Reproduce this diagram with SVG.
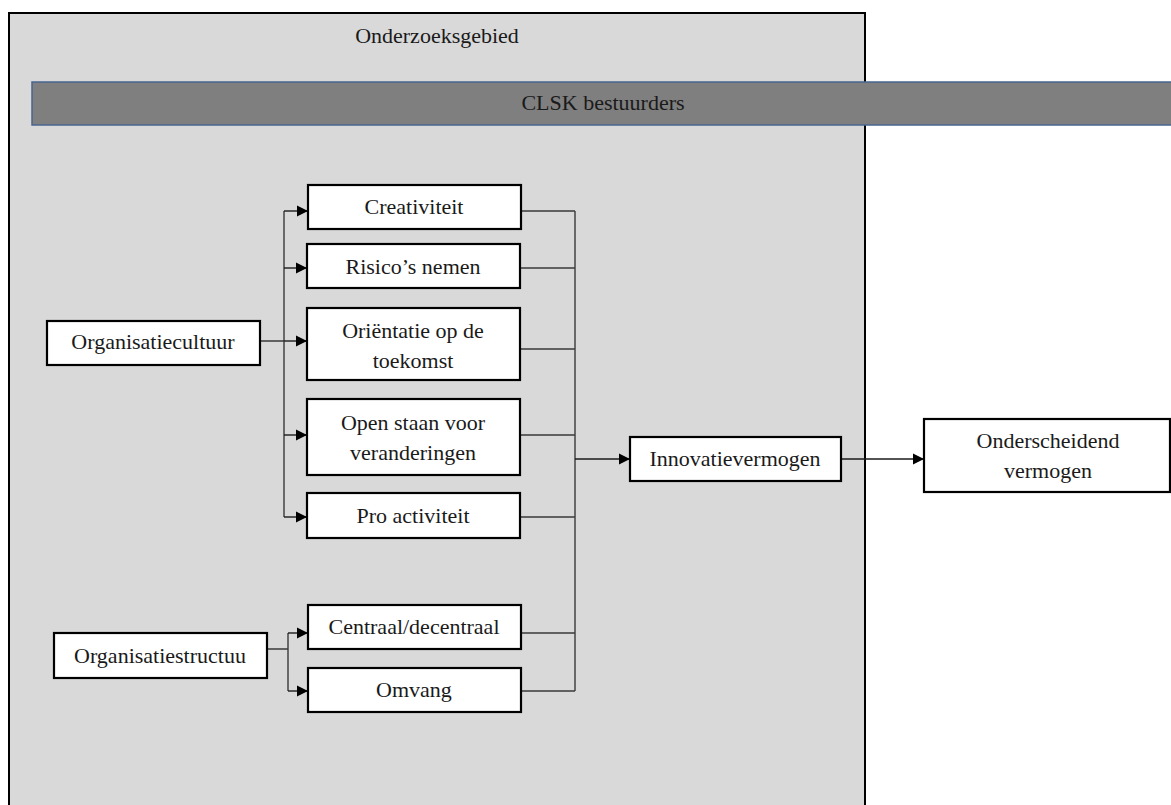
<svg xmlns="http://www.w3.org/2000/svg" width="1171" height="805" viewBox="0 0 1171 805">
<defs>
<style>
.box{fill:#ffffff;stroke:#000000;stroke-width:2.2}
.t{font-family:"Liberation Serif","Times New Roman",serif;font-size:22px;fill:#1a1a1a;text-anchor:middle}
.c{fill:none;stroke:#3a3a3a;stroke-width:1.4}
.a{fill:none;stroke:#1a1a1a;stroke-width:1.4;marker-end:url(#arr)}
</style>
<marker id="arr" markerUnits="userSpaceOnUse" markerWidth="12" markerHeight="12" refX="11" refY="6" orient="auto">
<path d="M0,0.5 L11,6 L0,11.5 Z" fill="#000000"/>
</marker>
</defs>
<rect width="1171" height="805" fill="#ffffff"/>
<g id="onderzoeksgebied">
<rect x="9" y="13" width="856" height="800" fill="#d9d9d9" stroke="#000000" stroke-width="2"/>
<text class="t" x="437" y="43">Onderzoeksgebied</text>
</g>
<g id="clsk">
<rect x="32" y="82" width="1150" height="43" fill="#7f7f7f" stroke="#4a6590" stroke-width="1.5"/>
<text class="t" x="603" y="110">CLSK bestuurders</text>
</g>
<g id="connectors">
<path class="c" d="M260,341 H284 M284,211 V517"/>
<path class="a" d="M284,211 H308"/>
<path class="a" d="M284,268 H307"/>
<path class="a" d="M284,341 H307"/>
<path class="a" d="M284,435 H307"/>
<path class="a" d="M284,517 H307"/>
<path class="c" d="M267,649 H288 M288,633 V691"/>
<path class="a" d="M288,633 H308"/>
<path class="a" d="M288,691 H308"/>
<path class="c" d="M521,211 H575 M520,268 H575 M520,349 H575 M520,435 H575 M520,517 H575 M521,633 H575 M521,691 H575 M575,211 V691"/>
<path class="a" d="M575,459 H630"/>
<path class="a" d="M841,459 H924"/>
</g>
<g id="organisatiecultuur">
<rect class="box" x="47" y="321" width="213" height="44"/>
<text class="t" x="153" y="349">Organisatiecultuur</text>
</g>
<g id="creativiteit">
<rect class="box" x="308" y="185" width="213" height="44"/>
<text class="t" x="414" y="214">Creativiteit</text>
</g>
<g id="risicos">
<rect class="box" x="307" y="244" width="213" height="44"/>
<text class="t" x="413" y="274">Risico’s nemen</text>
</g>
<g id="orientatie">
<rect class="box" x="307" y="308" width="213" height="72"/>
<text class="t" x="413" y="338">Oriëntatie op de</text>
<text class="t" x="413" y="368">toekomst</text>
</g>
<g id="openstaan">
<rect class="box" x="307" y="399" width="213" height="76"/>
<text class="t" x="413" y="430">Open staan voor</text>
<text class="t" x="413" y="460">veranderingen</text>
</g>
<g id="proactiviteit">
<rect class="box" x="307" y="493" width="213" height="45"/>
<text class="t" x="413" y="523">Pro activiteit</text>
</g>
<g id="organisatiestructuur">
<rect class="box" x="54" y="633" width="213" height="45"/>
<text class="t" x="160" y="663">Organisatiestructuu</text>
</g>
<g id="centraal">
<rect class="box" x="308" y="605" width="213" height="44"/>
<text class="t" x="414" y="634">Centraal/decentraal</text>
</g>
<g id="omvang">
<rect class="box" x="308" y="668" width="213" height="44"/>
<text class="t" x="414" y="697">Omvang</text>
</g>
<g id="innovatievermogen">
<rect class="box" x="630" y="437" width="211" height="44"/>
<text class="t" x="735" y="466">Innovatievermogen</text>
</g>
<g id="onderscheidend">
<rect class="box" x="924" y="419" width="246" height="73"/>
<text class="t" x="1048" y="448">Onderscheidend</text>
<text class="t" x="1048" y="478">vermogen</text>
</g>
</svg>
